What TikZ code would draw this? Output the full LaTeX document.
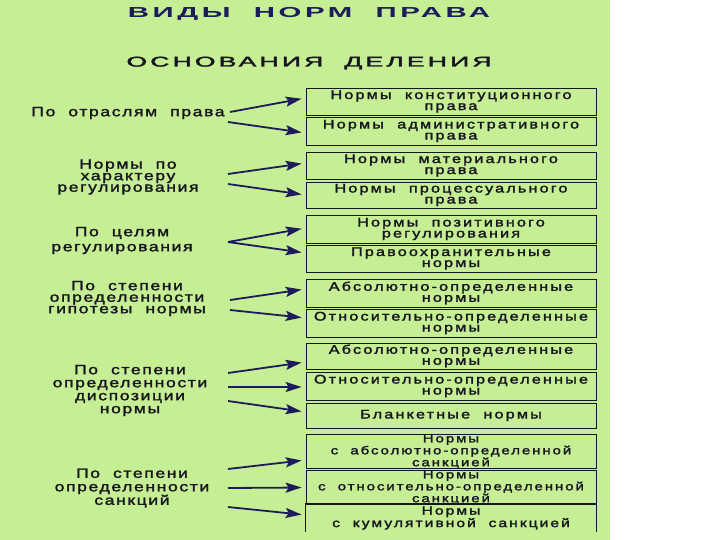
\documentclass[tikz,border=0pt]{standalone}
\usepackage{fontspec}
\usepackage{graphicx}
\setmainfont{Liberation Sans}
\newfontfamily\bodyf[FakeStretch=1.3,LetterSpace=12,FakeBold=2]{Liberation Sans}
\newfontfamily\boxf[FakeStretch=1.3,LetterSpace=17,FakeBold=2]{Liberation Sans}
\newfontfamily\titlef[LetterSpace=12]{Liberation Sans Bold}
\newfontfamily\subf[LetterSpace=12,FakeBold=2]{Liberation Sans}
\usetikzlibrary{arrows.meta}
\definecolor{bggreen}{RGB}{198,238,148}
\definecolor{navy}{RGB}{28,28,90}
\definecolor{ink}{RGB}{22,22,30}
\tikzset{
  box/.style={draw=ink, line width=0.8pt, minimum width=290pt, inner sep=0pt,
    align=center, text=ink, font=\boxf\fontsize{12.5}{11}\selectfont},
  sbox/.style={box, font=\boxf\fontsize{11.5}{10.2}\selectfont},
  openbox/.style={box, draw=none, font=\boxf\fontsize{12}{11}\selectfont},
  lbl/.style={align=center, text=ink, inner sep=0pt},
  arr/.style={draw=navy, line width=1.8pt, shorten >=4pt,
    -{Stealth[length=16pt,width=10pt,inset=3pt]}},
}
\newcommand{\lf}[1]{\bodyf\fontsize{13.5}{#1}\selectfont}
\begin{document}
\begin{tikzpicture}[x=1pt,y=-1pt]
\useasboundingbox (0,0) rectangle (720,540);
\fill[white] (0,0) rectangle (720,540);
\fill[bggreen] (0,0) rectangle (610,540);

% titles
\node[lbl, text=navy, font=\titlef\fontsize{14.5}{14.5}\selectfont] (title) at (309,14) {\resizebox{362pt}{\height}{ВИДЫ\ \ НОРМ\ \ ПРАВА}};
\node[lbl, font=\subf\fontsize{14}{14}\selectfont] (sub) at (309,63) {\resizebox{365pt}{\height}{ОСНОВАНИЯ\ \ ДЕЛЕНИЯ}};

% boxes
\node[box, minimum height=27pt] (b1) at (451,101.5) {Нормы\ \ конституционного\\права};
\node[box, minimum height=28pt] (b2) at (451,131) {Нормы\ \ административного\\права};
\node[box, minimum height=27pt] (b3) at (451,165.5) {Нормы\ \ материального\\права};
\node[box, minimum height=26pt] (b4) at (451,195) {Нормы\ \ процессуального\\права};
\node[box, minimum height=28pt] (b5) at (451,229) {Нормы\ \ позитивного\\регулирования};
\node[box, minimum height=27pt] (b6) at (451,258.5) {Правоохранительные\\нормы};
\node[box, minimum height=28pt] (b7) at (451,293) {Абсолютно-определенные\\нормы};
\node[box, minimum height=28pt] (b8) at (451,323) {Относительно-определенные\\нормы};
\node[box, minimum height=26pt] (b9) at (451,356) {Абсолютно-определенные\\нормы};
\node[box, minimum height=28pt] (b10) at (451,386) {Относительно-определенные\\нормы};
\node[box, minimum height=25pt] (b11) at (451,415.5) {Бланкетные\ \ нормы};
\node[sbox, minimum height=31pt] (b12) at (451,451.5) {Нормы\\с\ \ абсолютно-определенной\\санкцией};
\node[sbox, minimum height=31pt] (b13) at (451,487.5) {Нормы\\с\ \ относительно-определенной\\санкцией};
\node[openbox, minimum height=28pt] (b14) at (451,518) {Нормы\\с\ \ кумулятивной\ \ санкцией};
\draw[ink, line width=0.8pt] (b14.south west) -- (b14.north west) -- (b14.north east) -- (b14.south east);

% left labels
\node[lbl, font=\lf{12}] (g1) at (128,113) {По\ \ отраслям\ \ права};
\node[lbl, font=\lf{11.5}] (g2) at (128,177) {Нормы\ \ по\\характеру\\регулирования};
\node[lbl, font=\lf{15}] (g3) at (122,240.5) {По\ \ целям\\регулирования};
\node[lbl, font=\lf{11.5}] (g4) at (127,298.5) {По\ \ степени\\определенности\\гипотезы\ \ нормы};
\node[lbl, font=\lf{13}] (g5) at (130,390.5) {По\ \ степени\\определенности\\диспозиции\\нормы};
\node[lbl, font=\lf{13.5}] (g6) at (132,488) {По\ \ степени\\определенности\\санкций};

% arrow starts
\coordinate (s1a) at (230,112);
\coordinate (s1b) at (228,122);
\coordinate (s2a) at (228,174);
\coordinate (s2b) at (228,184);
\coordinate (s3) at (228,242);
\coordinate (s4a) at (230,300);
\coordinate (s4b) at (230,310);
\coordinate (s5a) at (228,373);
\coordinate (s5b) at (228,387);
\coordinate (s5c) at (228,401);
\coordinate (s6a) at (228,469);
\coordinate (s6b) at (228,488);
\coordinate (s6c) at (228,507);

% arrows
\draw[arr] (s1a) -- ([yshift=3.5pt]b1.west);
\draw[arr] (s1b) -- ([yshift=-2pt]b2.west);
\draw[arr] (s2a) -- ([yshift=2.5pt]b3.west);
\draw[arr] (s2b) -- (b4.west);
\draw[arr] (s3) -- ([yshift=1pt]b5.west);
\draw[arr] (s3) -- ([yshift=5.5pt]b6.west);
\draw[arr] (s4a) -- ([yshift=4pt]b7.west);
\draw[arr] (s4b) -- ([yshift=5pt]b8.west);
\draw[arr] (s5a) -- ([yshift=-6pt]b9.west);
\draw[arr] (s5b) -- ([yshift=-1pt]b10.west);
\draw[arr] (s5c) -- ([yshift=3.5pt]b11.west);
\draw[arr] (s6a) -- ([yshift=-8.5pt]b12.west);
\draw[arr] (s6b) -- (b13.west);
\draw[arr] (s6c) -- ([yshift=3pt]b14.west);
\end{tikzpicture}
\end{document}
